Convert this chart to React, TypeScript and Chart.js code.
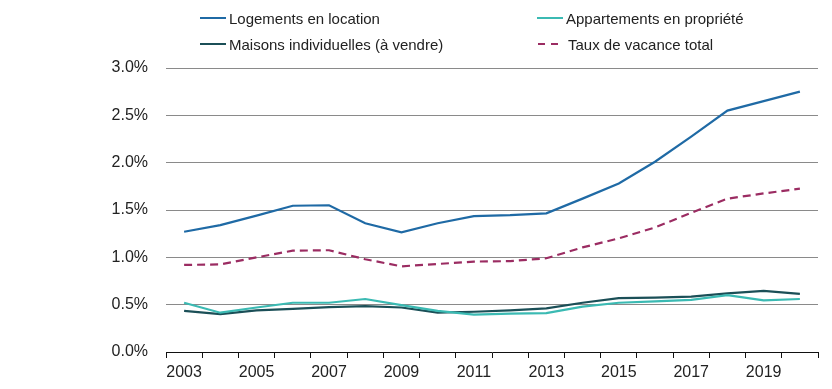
import React, { useEffect, useRef } from "react";
import { Chart, registerables } from "chart.js";

Chart.register(...registerables);

const years = ["2003","2004","2005","2006","2007","2008","2009","2010","2011","2012","2013","2014","2015","2016","2017","2018","2019","2020"];
const location = [1.27, 1.34, 1.44, 1.545, 1.55, 1.36, 1.265, 1.36, 1.435, 1.445, 1.465, 1.62, 1.78, 2.01, 2.275, 2.55, 2.65, 2.75];
const appartements = [0.52, 0.415, 0.47, 0.52, 0.52, 0.56, 0.495, 0.435, 0.395, 0.405, 0.41, 0.48, 0.52, 0.535, 0.55, 0.6, 0.545, 0.56];
const maisons = [0.435, 0.4, 0.44, 0.455, 0.475, 0.485, 0.47, 0.415, 0.425, 0.44, 0.46, 0.52, 0.57, 0.575, 0.585, 0.62, 0.645, 0.615];
const vacance = [0.92, 0.925, 1.0, 1.07, 1.075, 0.98, 0.905, 0.93, 0.955, 0.96, 0.99, 1.105, 1.2, 1.315, 1.47, 1.62, 1.675, 1.725];
const seriesNames = ["Logements en location", "Appartements en propriété", "Maisons individuelles (à vendre)", "Taux de vacance total"];
const colors = ["#1f6aa5", "#3bbab3", "#1b4f57", "#9b2c62"];

const FONT = "'Liberation Sans', Arial, sans-serif";

export default function App() {
  const ref = useRef<HTMLCanvasElement>(null);
  useEffect(() => {
    const ctx = ref.current!;
    const mk = (i: number, data: number[], dash?: number[]) => ({
      label: seriesNames[i],
      data,
      borderColor: colors[i],
      backgroundColor: colors[i],
      borderWidth: 2.2,
      pointRadius: 0,
      tension: 0,
      fill: false,
      borderDash: dash || [],
    });
    const chart = new Chart(ctx, {
      type: "line",
      data: {
        labels: years,
        datasets: [
          mk(1, appartements),
          mk(2, maisons),
          mk(0, location),
          mk(3, vacance, [8, 5]),
        ],
      },
      options: {
        animation: false,
        responsive: false,
        maintainAspectRatio: false,
        layout: { padding: { top: 68, right: 14, bottom: 0, left: 0 } },
        plugins: { legend: { display: false }, tooltip: { enabled: false } },
        scales: {
          x: {
            offset: true,
            grid: {
              offset: true,
              drawOnChartArea: false,
              drawTicks: true,
              tickLength: 6,
              color: "#111",
              lineWidth: 1,
            },
            border: { display: true, color: "#111", width: 1 },
            ticks: {
              autoSkip: false,
              maxRotation: 0,
              padding: 5,
              color: "#222",
              font: { family: FONT, size: 16 },
              callback: (v: any, i: number) => (i % 2 === 0 ? years[i] : ""),
            },
            afterFit: (s: any) => { s.height = 37; },
          },
          y: {
            min: 0,
            max: 3,
            grid: {
              drawTicks: false,
              color: (c: any) => (c.tick && c.tick.value === 0 ? "rgba(0,0,0,0)" : "#8a8a8a"),
              lineWidth: 1,
            },
            border: { display: false },
            ticks: {
              stepSize: 0.5,
              padding: 18,
              color: "#222",
              font: { family: FONT, size: 16 },
              callback: (v: any) => Number(v).toFixed(1) + "%",
            },
            afterFit: (s: any) => { s.width = 166; },
          },
        },
      },
    });
    return () => chart.destroy();
  }, []);

  const legendItem = (i: number, left: number, top: number, dashed = false) => (
    <div key={i} style={{ position: "absolute", left, top, display: "flex", alignItems: "center", height: 20, fontFamily: FONT, fontSize: 15, color: "#222", whiteSpace: "nowrap" }}>
      {dashed ? (
        <svg width={26} height={4} style={{ marginRight: 5 }}>
          <line x1={1} y1={2} x2={25} y2={2} stroke={colors[i]} strokeWidth={2} strokeDasharray="7 6" />
        </svg>
      ) : (
        <div style={{ width: 26, height: 2, background: colors[i], marginRight: 3 }} />
      )}
      <span>{seriesNames[i]}</span>
    </div>
  );

  return (
    <div style={{ position: "fixed", left: 0, top: 0, width: 832, height: 389, background: "#fff" }}>
      <canvas ref={ref} width={832} height={389} style={{ position: "absolute", left: 0, top: 0 }} />
      {legendItem(0, 200, 8)}
      {legendItem(1, 537, 8)}
      {legendItem(2, 200, 34)}
      {legendItem(3, 537, 34, true)}
    </div>
  );
}
